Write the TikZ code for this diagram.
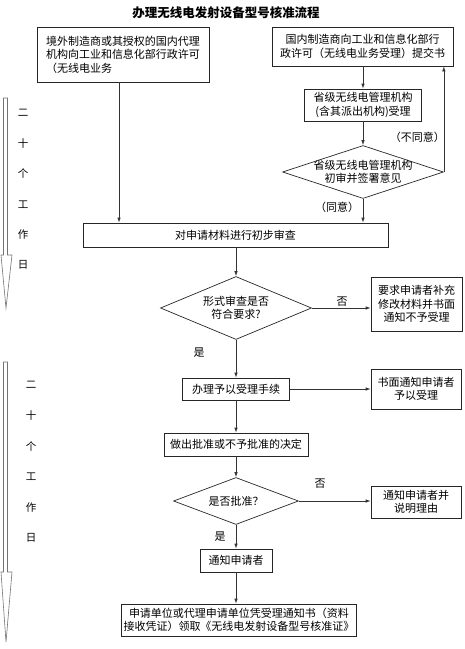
\documentclass[tikz,border=0pt]{standalone}
\usepackage{fontspec}
\setmainfont{Noto Sans CJK SC}
\usetikzlibrary{arrows.meta, positioning, shapes.geometric}

\begin{document}
\begin{tikzpicture}[
    x=1pt, y=-1pt,
    font=\fontsize{11}{13.5}\selectfont,
    box/.style={draw=black!85, line width=0.7pt, align=center, inner sep=2pt},
    check/.style={draw=black!85, line width=0.7pt, diamond, align=center, inner sep=-2pt},
    lbl/.style={inner sep=1pt},
    arrow/.style={-{Latex[length=5pt,width=3.5pt]}, line width=0.7pt, draw=black!80},
    span/.style={draw=black!55, line width=0.6pt, fill=white},
    daylbl/.style={inner sep=0pt, font=\fontsize{10.5}{12}\selectfont}
]
  \useasboundingbox (0,0) rectangle (465,649);

  \node (title) at (226,13) {\fontsize{12.5}{15}\selectfont\bfseries 办理无线电发射设备型号核准流程};

  % top row
  \node[box, align=left, minimum width=172pt, minimum height=55pt] (src) at (123,54.5)
    {境外制造商或其授权的国内代理\\机构向工业和信息化部行政许可\\（无线电业务};
  \node[box, minimum width=181pt, minimum height=39pt] (dom) at (362.5,46.5)
    {国内制造商向工业和信息化部行\\政许可（无线电业务受理）提交书};
  \node[box, minimum width=117pt, minimum height=32pt] (prov) at (363,105)
    {省级无线电管理机构\\(含其派出机构)受理};
  \node[check, aspect=3, minimum width=161pt, minimum height=53pt] (opin) at (363,172)
    {省级无线电管理机构\\初审并签署意见};

  \node[box, minimum width=305pt, minimum height=24pt] (check) at (235.5,235) {对申请材料进行初步审查};
  \node[check, aspect=2.4, minimum width=151pt, minimum height=63pt] (form) at (236,308)
    {形式审查是否\\符合要求?};
  \node[box, minimum width=91pt, minimum height=54pt] (reject) at (416.5,304)
    {要求申请者补充\\修改材料并书面\\通知不予受理};

  \node[box, minimum width=107pt, minimum height=22pt] (accept) at (236,389) {办理予以受理手续};
  \node[box, minimum width=90pt, minimum height=40pt] (notice) at (416,389) {书面通知申请者\\予以受理};
  \node[box, minimum width=144pt, minimum height=23pt] (decide) at (236,444.5) {做出批准或不予批准的决定};
  \node[check, aspect=2.66, minimum width=125pt, minimum height=47pt] (approve) at (236,501) {是否批准？};
  \node[box, minimum width=90pt, minimum height=32pt] (refuse) at (416,502) {通知申请者并\\说明理由};
  \node[box, minimum width=72pt, minimum height=23pt] (inform) at (236,560.5) {通知申请者};
  \node[box, minimum width=222pt, minimum height=32pt] (issue) at (239,620)
    {申请单位或代理申请单位凭受理通知书（资料\\接收凭证）领取《无线电发射设备型号核准证》};

  % labels
  \node[lbl, anchor=east] (nolbl1) at (446,137) {（不同意）};
  \node[lbl] (yeslbl1) at (337,207) {（同意）};
  \node[lbl] (nolbl2) at (342,302) {否};
  \node[lbl] (yeslbl2) at (199,353) {是};
  \node[lbl] (nolbl3) at (320,484) {否};
  \node[lbl] (yeslbl3) at (220,537) {是};

  % connectors
  \draw[arrow] (src.south -| 119,0) -- (check.north -| 119,0);
  \draw[arrow] (dom.south -| prov) -- (prov.north);
  \draw[arrow] (prov) -- (opin);
  \draw[arrow] (opin.east) -- (opin.east |- dom.south);
  \draw[arrow] (opin.south) -- (opin.south |- check.north);
  \draw[arrow] (check.south -| form) -- (form.north);
  \draw[arrow] (form.east) -- (form.east -| reject.west);
  \draw[arrow] (form) -- (accept);
  \draw[arrow] (accept) -- (accept -| notice.west);
  \draw[arrow] (accept) -- (decide);
  \draw[arrow] (decide) -- (approve);
  \draw[arrow] (approve.east) -- (approve.east -| refuse.west);
  \draw[arrow] (approve) -- (inform);
  \draw[arrow] (inform.south) -- (inform.south |- issue.north);

  % working-day spans
  \draw[span] (3.5,98) -- (7.5,98) -- (7.5,255) -- (12,255) -- (6,308) -- (1,255) -- (3.5,255) -- cycle;
  \draw[span] (3.5,362) -- (7.5,362) -- (7.5,572) -- (12,572) -- (6,642) -- (1,572) -- (3.5,572) -- cycle;
  \foreach \ch [count=\i] in {二,十,个,工,作,日} {
    \node[daylbl] (daya-\i) at (23,{113+30.4*(\i-1)}) {\ch};
    \node[daylbl] (dayb-\i) at (31,{385+30.6*(\i-1)}) {\ch};
  }
\end{tikzpicture}
\end{document}
